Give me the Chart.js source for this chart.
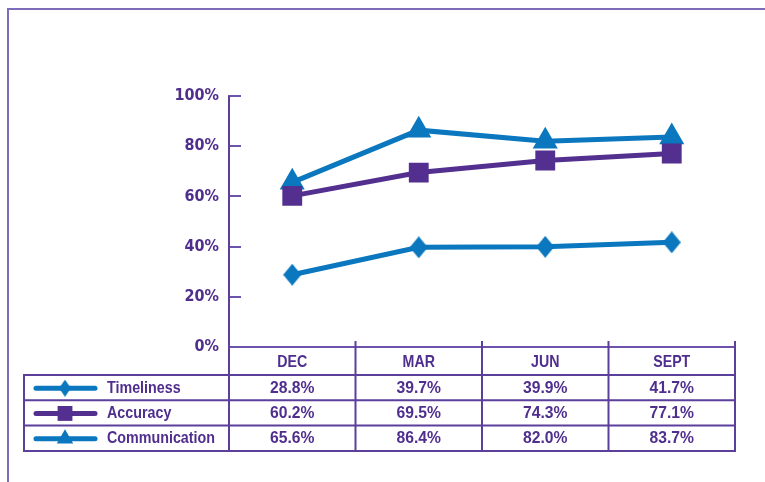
<!DOCTYPE html>
<html>
<head>
<meta charset="utf-8">
<script src="https://cdn.jsdelivr.net/npm/chart.js@4.4.1/dist/chart.umd.min.js"></script>
<style>
html,body{margin:0;padding:0;background:#fff;}
#wrap{width:765px;height:482px;position:relative;}
</style>
</head>
<body>
<div id="wrap"><canvas id="c" width="765" height="482"></canvas></div>
<script>
const categories = ['DEC', 'MAR', 'JUN', 'SEPT'];
const timeliness = [28.8, 39.7, 39.9, 41.7];
const accuracy = [60.2, 69.5, 74.3, 77.1];
const communication = [65.6, 86.4, 82.0, 83.7];
const yTicks = [0, 20, 40, 60, 80, 100];
const seriesNames = ['Timeliness', 'Accuracy', 'Communication'];

const BLUE = '#0a77be';
const PURPLE = '#532f8f';
const TEXT = '#4f2e8e';
const AXIS = '#6c53ae';
const FRAME = '#7f6dbb';
const TFONT = 'bold 16.5px "Liberation Sans", Arial, sans-serif';

function diamondCanvas(w, h, color) {
  const c = document.createElement('canvas');
  c.width = w; c.height = h;
  const x = c.getContext('2d');
  x.fillStyle = color;
  x.beginPath();
  x.moveTo(w / 2, 0); x.lineTo(w, h / 2); x.lineTo(w / 2, h); x.lineTo(0, h / 2);
  x.closePath(); x.fill();
  return c;
}
const diamondBig = diamondCanvas(18, 22, BLUE);
const diamondSmall = diamondCanvas(12, 17, BLUE);

const fmt = v => v.toFixed(1) + '%';

function narrowText(ctx, text, x, y, sx, align) {
  ctx.save();
  ctx.translate(x, y);
  ctx.scale(sx, 1);
  ctx.textAlign = align;
  ctx.fillText(text, 0, 0);
  ctx.restore();
}

const tablePlugin = {
  id: 'tablePlugin',
  beforeDraw(chart) {
    const ctx = chart.ctx;
    ctx.save();
    ctx.strokeStyle = FRAME;
    ctx.lineWidth = 2;
    ctx.beginPath();
    ctx.moveTo(7, 9); ctx.lineTo(765, 9);
    ctx.moveTo(8, 9); ctx.lineTo(8, 482);
    ctx.stroke();
    ctx.restore();
  },
  afterDraw(chart) {
    const ctx = chart.ctx;
    const xs = chart.scales.x, ys = chart.scales.y;
    const area = chart.chartArea;
    const half = (xs.getPixelForValue(1) - xs.getPixelForValue(0)) / 2;
    const bounds = [];
    for (let i = 0; i < categories.length; i++) bounds.push(xs.getPixelForValue(i) - half);
    bounds.push(xs.getPixelForValue(categories.length - 1) + half);
    const headTop = area.bottom;
    const headBottom = xs.bottom;
    const rowH = 25.3;
    const tableBottom = headBottom + rowH * 3;
    const legLeft = 24;

    ctx.save();
    ctx.strokeStyle = AXIS;
    ctx.lineWidth = 2;
    ctx.beginPath();
    yTicks.forEach(v => {
      const y = Math.round(ys.getPixelForValue(v));
      ctx.moveTo(area.left, y); ctx.lineTo(area.left + 12, y);
    });
    ctx.stroke();

    ctx.strokeStyle = '#5c3f9b';
    ctx.lineWidth = 2;
    ctx.beginPath();
    bounds.forEach((bx, i) => {
      ctx.moveTo(bx, i === 0 ? area.top : headTop - 6);
      ctx.lineTo(bx, tableBottom);
    });
    ctx.moveTo(legLeft, headBottom); ctx.lineTo(legLeft, tableBottom);
    for (let r = 0; r <= 3; r++) {
      const y = headBottom + rowH * r;
      ctx.moveTo(legLeft - 1, y); ctx.lineTo(bounds[bounds.length - 1] + 1, y);
    }
    ctx.stroke();

    ctx.font = TFONT;
    ctx.textBaseline = 'middle';
    ctx.fillStyle = TEXT;
    categories.forEach((c, i) => {
      narrowText(ctx, c, xs.getPixelForValue(i), (headTop + headBottom) / 2 + 1, 0.86, 'center');
    });

    const data = [timeliness, accuracy, communication];
    const colors = [BLUE, PURPLE, BLUE];
    data.forEach((arr, r) => {
      const cy = headBottom + rowH * r + rowH / 2 + 0.5;
      ctx.strokeStyle = colors[r];
      ctx.lineWidth = 5;
      ctx.lineCap = 'round';
      ctx.beginPath(); ctx.moveTo(36, cy); ctx.lineTo(95, cy); ctx.stroke();
      const ds = chart.data.datasets[r];
      if (r === 0) {
        ctx.drawImage(diamondSmall, 65 - 6, cy - 8.5);
      } else {
        ctx.fillStyle = colors[r];
        Chart.helpers.drawPoint(ctx, {pointStyle: ds.pointStyle, radius: ds.pointRadius, rotation: 0, borderWidth: 0}, 65, cy);
      }
      ctx.fillStyle = TEXT;
      narrowText(ctx, seriesNames[r], 107, cy, 0.866, 'left');
      arr.forEach((v, i) => {
        narrowText(ctx, fmt(v), xs.getPixelForValue(i), cy, 0.95, 'center');
      });
    });
    ctx.restore();
  }
};

new Chart(document.getElementById('c'), {
  type: 'line',
  data: {
    labels: categories,
    datasets: [
      {label: 'Timeliness', data: timeliness, borderColor: BLUE, backgroundColor: BLUE,
       borderWidth: 5, pointStyle: diamondBig, pointRadius: 10, tension: 0},
      {label: 'Accuracy', data: accuracy, borderColor: PURPLE, backgroundColor: PURPLE,
       borderWidth: 5, pointStyle: 'rect', pointRadius: 10.5, tension: 0},
      {label: 'Communication', data: communication, borderColor: BLUE, backgroundColor: BLUE,
       borderWidth: 5, pointStyle: 'triangle', pointRadius: 9.5, tension: 0}
    ]
  },
  options: {
    responsive: false,
    animation: false,
    devicePixelRatio: 1,
    layout: {padding: {left: 0, right: 30, top: 96, bottom: 107}},
    plugins: {legend: {display: false}, tooltip: {enabled: false}},
    elements: {point: {borderWidth: 0, hoverRadius: 10}},
    scales: {
      y: {
        min: 0, max: 100,
        afterFit(s) { s.width = 229; },
        afterBuildTicks(s) { s.ticks = yTicks.map(v => ({value: v})); },
        grid: {display: false, drawTicks: false},
        border: {display: true, color: AXIS, width: 2},
        ticks: {
          padding: 10,
          color: TEXT,
          font: {family: '"DejaVu Sans Condensed", "DejaVu Sans", sans-serif', size: 16, weight: 'bold'},
          callback: v => v + '%'
        }
      },
      x: {
        offset: true,
        afterFit(s) { s.height = 28; },
        grid: {display: false, drawTicks: false},
        border: {display: true, color: AXIS, width: 2},
        ticks: {display: false}
      }
    }
  },
  plugins: [tablePlugin]
});
</script>
</body>
</html>
